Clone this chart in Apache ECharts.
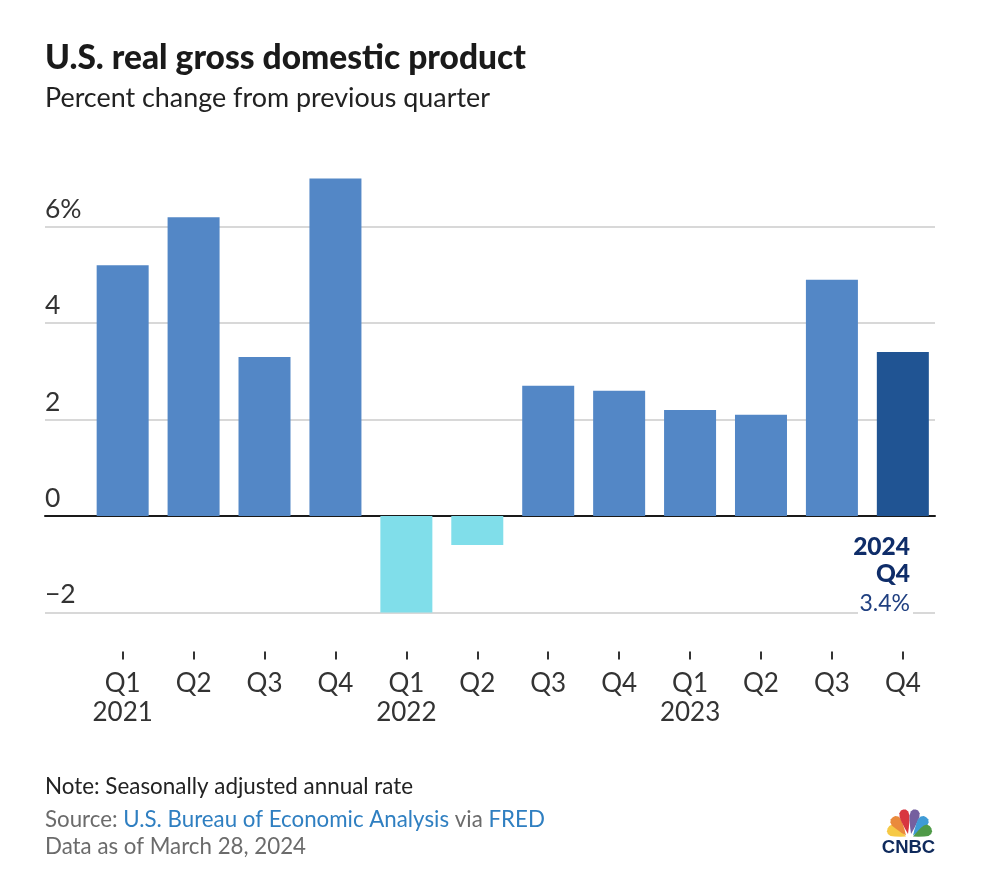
<!DOCTYPE html>
<html>
<head>
<meta charset="utf-8">
<title>U.S. real gross domestic product</title>
<script src="https://cdn.jsdelivr.net/npm/echarts@6/dist/echarts.min.js"></script>
<style>
  html, body { margin: 0; padding: 0; background: #fff; }
  #chart { width: 1000px; height: 887px; }
</style>
</head>
<body>
<div id="chart"></div>
<script>
const quarters = ['Q1\n2021', 'Q2', 'Q3', 'Q4', 'Q1\n2022', 'Q2', 'Q3', 'Q4', 'Q1\n2023', 'Q2', 'Q3', 'Q4']
const gdpChange = [5.2, 6.2, 3.3, 7.0, -2.0, -0.6, 2.7, 2.6, 2.2, 2.1, 4.9, 3.4]
const yTicks = { '-2': '\u22122', 0: '0', 2: '2', 4: '4', 6: '6%' }

const FONT = 'Lato, "Noto Sans", sans-serif'
const Y_MIN = -2
const Y_MAX = 8
const lastIndex = gdpChange.length - 1

// both grids share the vertical range, the second one only carries the wider gridlines
const gridTop = 130.4
const gridBottom = 887 - 612.4

function barColor(params) {
  if (params.dataIndex === lastIndex) return '#205493'
  return params.value < 0 ? '#80deea' : '#5387c6'
}

// one peacock feather, pointing up from the origin
const FEATHER = [[0, 0], [-2, -6], [-4, -13], [-5, -18], [-4.5, -22], [-2.5, -24.5], [0, -25], [2.5, -24.5], [4.5, -22], [5, -18], [4, -13], [2, -6]]
const feathers = [
  { color: '#f6c945', angle: 66, x: 906, y: 836.5, sx: 1.15, sy: 0.8 },
  { color: '#ea8a3c', angle: 36, x: 906, y: 835.5, sx: 1.1, sy: 0.9 },
  { color: '#d8363f', angle: 11, x: 908, y: 834, sx: 1, sy: 1 },
  { color: '#75609f', angle: -11, x: 911, y: 834, sx: 1, sy: 1 },
  { color: '#3f9bd6', angle: -36, x: 913, y: 835.5, sx: 1.1, sy: 0.9 },
  { color: '#4f9a48', angle: -66, x: 913, y: 836.5, sx: 1.15, sy: 0.8 }
]

const chart = echarts.init(document.getElementById('chart'), null, { renderer: 'canvas' })

chart.setOption({
  animation: false,
  backgroundColor: '#fff',
  textStyle: { fontFamily: FONT },
  title: [
    {
      text: 'U.S. real gross domestic product', left: 45, top: 41, padding: 0,
      textStyle: { fontFamily: FONT, fontSize: 33.5, fontWeight: 900, color: '#1a1a1a' }
    },
    {
      text: 'Percent change from previous quarter', left: 45, top: 85, padding: 0,
      textStyle: { fontFamily: FONT, fontSize: 26.9, fontWeight: 400, color: '#222' }
    },
    {
      text: 'Note: Seasonally adjusted annual rate', left: 45, top: 776, padding: 0,
      textStyle: { fontFamily: FONT, fontSize: 22.4, fontWeight: 400, color: '#222' }
    },
    {
      text: '{g|Source: }{b|U.S. Bureau of Economic Analysis}{g| via }{b|FRED}', left: 45, top: 809, padding: 0,
      textStyle: {
        fontFamily: FONT, fontSize: 22.3, fontWeight: 400,
        rich: {
          g: { fontFamily: FONT, fontSize: 22.3, fontWeight: 400, color: '#6b6b6b' },
          b: { fontFamily: FONT, fontSize: 22.3, fontWeight: 400, color: '#2f7fc1' }
        }
      }
    },
    {
      text: 'Data as of March 28, 2024', left: 45, top: 836, padding: 0,
      textStyle: { fontFamily: FONT, fontSize: 22.3, fontWeight: 400, color: '#6b6b6b' }
    }
  ],
  grid: [
    { left: 87.2, right: 1000 - 938.3, top: gridTop, bottom: gridBottom },
    { left: 45, right: 1000 - 935, top: gridTop, bottom: gridBottom }
  ],
  xAxis: [
    {
      type: 'category', gridIndex: 0, data: quarters, position: 'bottom', offset: 39,
      // line stays transparent, ticks need it on
      axisLine: { show: true, onZero: false, lineStyle: { color: 'transparent' } },
      axisTick: { show: true, alignWithLabel: true, length: 8, lineStyle: { color: '#333', width: 2 } },
      axisLabel: { interval: 0, margin: 18, fontFamily: FONT, fontSize: 26, lineHeight: 29, color: '#333' },
      splitLine: { show: false }
    },
    {
      type: 'value', gridIndex: 1, min: 0, max: 1,
      axisLine: { show: true, onZero: true, lineStyle: { color: '#1a1a1a', width: 2 } },
      axisTick: { show: false }, axisLabel: { show: false }, splitLine: { show: false }
    }
  ],
  yAxis: [
    { type: 'value', gridIndex: 0, min: Y_MIN, max: Y_MAX, interval: 2, show: false },
    {
      type: 'value', gridIndex: 1, min: Y_MIN, max: Y_MAX, interval: 2,
      axisLine: { show: false }, axisTick: { show: false },
      axisLabel: {
        inside: true, margin: 0, verticalAlign: 'bottom', showMaxLabel: false,
        fontFamily: FONT, fontSize: 26.5, color: '#333', padding: [0, 0, 4, 0],
        formatter: function (v) { return yTicks[v] === undefined ? '' : yTicks[v] }
      },
      splitLine: { show: true, showMaxLine: false, lineStyle: { color: '#d8d8d8', width: 2 } }
    }
  ],
  series: [
    {
      type: 'bar', xAxisIndex: 0, yAxisIndex: 0, data: gdpChange, barWidth: 52, z: 3,
      itemStyle: { color: barColor }
    }
  ],
  graphic: [
    {
      type: 'text', z: 20, x: 910, y: 535,
      style: { text: '2024', align: 'right', verticalAlign: 'top', font: '900 24.5px ' + FONT, fill: '#0f2d69' }
    },
    {
      type: 'text', z: 20, x: 910, y: 562,
      style: { text: 'Q4', align: 'right', verticalAlign: 'top', font: '900 24.5px ' + FONT, fill: '#0f2d69' }
    },
    {
      type: 'rect', z: 19, shape: { x: 858, y: 592, width: 55, height: 24 },
      style: { fill: '#fff' }
    },
    {
      type: 'text', z: 20, x: 910, y: 592,
      style: { text: gdpChange[lastIndex] + '%', align: 'right', verticalAlign: 'top', font: '400 23px ' + FONT, fill: '#1f3f80' }
    }
  ].concat(feathers.map(function (f) {
    return {
      type: 'polygon', z: 20, x: f.x, y: f.y, rotation: f.angle * Math.PI / 180, scaleX: f.sx, scaleY: f.sy,
      shape: { points: FEATHER },
      style: { fill: f.color }
    }
  })).concat([
    {
      type: 'text', z: 20, x: 908.5, y: 838,
      style: { text: 'CNBC', align: 'center', verticalAlign: 'top', font: '900 18.5px "Liberation Sans", sans-serif', fill: '#0f2a5c' }
    }
  ])
})
</script>
</body>
</html>
